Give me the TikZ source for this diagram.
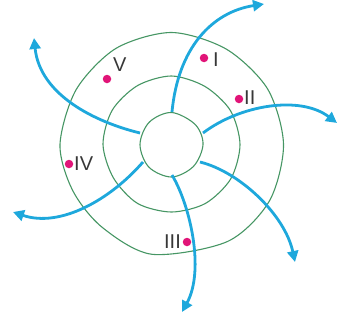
\documentclass[tikz,border=0pt]{standalone}
\usepackage{fontspec}
\setmainfont{Liberation Sans}
\usetikzlibrary{arrows.meta,calc}
\definecolor{ringgreen}{RGB}{70,150,100}
\definecolor{flowblue}{RGB}{30,168,220}
\definecolor{dotpink}{RGB}{225,20,120}
\definecolor{labelgray}{RGB}{55,55,55}
\tikzset{
  ring/.style={draw=ringgreen, line width=1.1pt},
  flow/.style={draw=flowblue, line width=2.8pt, -{Triangle[length=11pt,width=11pt]}},
  spot/.style={circle, fill=dotpink, inner sep=0pt, minimum size=8.5pt},
  lbl/.style={text=labelgray, font=\fontsize{20}{20}\selectfont, inner sep=0pt}
}
\begin{document}
\begin{tikzpicture}[x=1pt,y=-1pt]
\useasboundingbox (0,0) rectangle (339,324);
\coordinate (c) at (171.5,144.5);
% rings
\draw[ring] plot[smooth cycle, tension=0.55] coordinates {
  ($(c)+(0:31.5)$) ($(c)+(-40:31)$) ($(c)+(-90:32)$) ($(c)+(-135:31.5)$)
  ($(c)+(180:31.5)$) ($(c)+(135:32)$) ($(c)+(90:32.5)$) ($(c)+(45:31)$)};
\draw[ring] plot[smooth cycle] coordinates {
  ($(c)+(0:68.5)$) ($(c)+(-30:68)$) ($(c)+(-60:67)$) ($(c)+(-90:68.5)$)
  ($(c)+(-120:68)$) ($(c)+(-150:68.5)$) ($(c)+(180:68.5)$) ($(c)+(150:67)$)
  ($(c)+(120:68)$) ($(c)+(90:67.5)$) ($(c)+(60:68)$) ($(c)+(30:68.5)$)};
\draw[ring] plot[smooth cycle] coordinates {
  ($(c)+(0:112)$) ($(c)+(-30:111)$) ($(c)+(-60:110)$) ($(c)+(-90:112)$)
  ($(c)+(-120:111)$) ($(c)+(-150:110)$) ($(c)+(180:111.5)$) ($(c)+(155:109)$)
  ($(c)+(130:108)$) ($(c)+(100:111.5)$) ($(c)+(60:112)$) ($(c)+(30:113)$)};
% arrows
\coordinate (s1) at (172,112); \coordinate (e1) at (264,4);
\coordinate (s2) at (203,133); \coordinate (e2) at (337,123);
\coordinate (s3) at (200,162); \coordinate (e3) at (295,262);
\coordinate (s4) at (172,175); \coordinate (e4) at (182,312);
\coordinate (s5) at (143,162); \coordinate (e5) at (13,212);
\coordinate (s6) at (140,133); \coordinate (e6) at (34,38);
\draw[flow] (s1) .. controls (178,48) and (212,12) .. (e1);
\draw[flow] (s2) .. controls (240,105) and (300,95) .. (e2);
\draw[flow] (s3) .. controls (240,172) and (285,215) .. (e3);
\draw[flow] (s4) .. controls (190,205) and (205,270) .. (e4);
\draw[flow] (s5) .. controls (110,200) and (60,228) .. (e5);
\draw[flow] (s6) .. controls (95,122) and (40,95) .. (e6);
% dots and labels
\node[spot] (d1) at (204,58) {};   \node[lbl, anchor=west] (l1) at (213,60) {I};
\node[spot] (d2) at (239,99) {};   \node[lbl, anchor=west] (l2) at (244,98) {II};
\node[spot] (d3) at (187,242) {};  \node[lbl, anchor=east] (l3) at (181,242) {III};
\node[spot] (d4) at (69,164) {};   \node[lbl, anchor=west] (l4) at (74,164) {IV};
\node[spot] (d5) at (107,79) {};   \node[lbl, anchor=west] (l5) at (113,65) {V};
\end{tikzpicture}
\end{document}
